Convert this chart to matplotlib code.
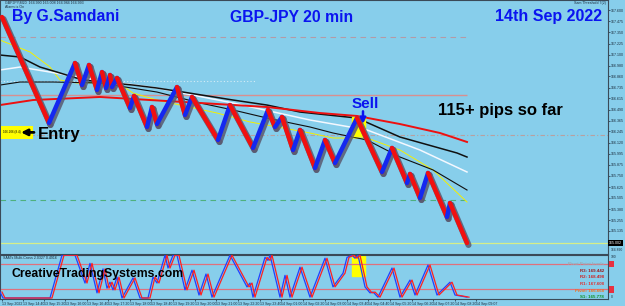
import matplotlib
matplotlib.use("Agg")
import matplotlib.pyplot as plt
from matplotlib.patches import Rectangle
from matplotlib.transforms import offset_copy

# renko swing points (bar index, price)
zz_x = [2, 49, 75, 82, 89, 97, 102, 106, 110, 112, 117, 130, 134, 147, 152, 157, 177, 185, 192, 218,
        230, 253, 268, 275, 282, 293, 300, 315, 325, 335, 357, 382, 392, 407, 410, 420, 428, 447, 450, 467]
zz_p = [167.522, 166.340, 167.009, 166.763, 166.987, 166.708, 166.908, 166.730, 166.875, 166.741,
        166.842, 166.507, 166.641, 166.295, 166.518, 166.328, 166.741, 166.429, 166.630, 166.150,
        166.540, 166.061, 166.485, 166.295, 166.407, 166.038, 166.262, 165.838, 166.150, 165.893,
        166.395, 165.793, 166.061, 165.670, 165.771, 165.503, 165.782, 165.291, 165.447, 165.001]

# moving averages
ma_red_x = [0, 33, 100, 150, 200, 267, 320, 357, 400, 440, 467]
ma_red_p = [166.540, 166.596, 166.630, 166.596, 166.563, 166.518, 166.451, 166.418, 166.328, 166.228, 166.128]
ma_blk1_x = [0, 20, 40, 57, 83, 133, 157, 183, 233, 267, 300, 357, 400, 457, 467]
ma_blk1_p = [167.098, 167.076, 166.964, 166.908, 166.819, 166.763, 166.730, 166.685, 166.596, 166.540,
             166.462, 166.395, 166.183, 166.005, 165.960]
ma_blk2_x = [0, 20, 53, 100, 157, 200, 233, 267, 310, 333, 367, 400, 433, 467]
ma_blk2_p = [166.763, 166.797, 166.797, 166.786, 166.685, 166.563, 166.485, 166.395, 166.295, 166.228,
             166.150, 165.960, 165.816, 165.592]
ma_wht_x = [0, 20, 50, 83, 157, 233, 310, 367, 420, 467]
ma_wht_p = [166.931, 166.964, 166.908, 166.842, 166.730, 166.563, 166.373, 166.262, 166.038, 165.793]
ma_yel_x = [0, 30, 50, 60, 77, 117, 133, 157, 180, 217, 250, 283, 310, 333, 367, 400, 433, 467]
ma_yel_p = [167.265, 167.132, 166.964, 166.819, 166.786, 166.797, 166.674, 166.596, 166.540, 166.451,
            166.351, 166.284, 166.228, 166.172, 166.172, 166.038, 165.816, 165.458]

# oscillator (0-100)
osc_x = [0, 3, 50, 62, 75, 85, 90, 97, 103, 107, 110, 113, 117, 122, 133, 140, 148, 153, 157, 165,
         168, 173, 177, 185, 192, 199, 206, 212, 230, 247, 250, 253, 265, 268, 270, 280, 285, 290,
         300, 310, 325, 333, 343, 347, 352, 355, 358, 365, 370, 373, 378, 392, 400, 410, 415, 428,
         437, 450, 455, 467]
osc_v = [14, 0, 0, 100, 100, 35, 81, 12, 68, 23, 37, 19, 49, 0, 47, 0, 0, 49, 35, 100,
         70, 100, 100, 19, 65, 7, 56, 2, 100, 26, 35, 2, 95, 88, 100, 2, 53, 2,
         72, 2, 93, 26, 58, 95, 100, 93, 100, 26, 12, 14, 2, 70, 2, 42, 7, 77,
         7, 37, 7, 2]

price_ticks = [167.600, 167.475, 167.350, 167.225, 167.100, 166.980, 166.860, 166.735, 166.615, 166.490,
               166.365, 166.245, 166.120, 165.995, 165.875, 165.750, 165.625, 165.505, 165.380, 165.255,
               165.135]
time_pos = [2, 23, 44, 65, 87, 108, 130, 151, 173, 195, 216, 238, 260, 281, 303, 325, 347, 368, 390,
            412, 433, 455, 476]
time_lbl = ["13 Sep 2022", "13 Sep 14:40", "13 Sep 15:20", "13 Sep 16:00", "13 Sep 16:40", "13 Sep 17:20",
            "13 Sep 18:00", "13 Sep 18:40", "13 Sep 19:20", "13 Sep 20:00", "13 Sep 21:00", "13 Sep 22:20",
            "13 Sep 23:40", "14 Sep 01:00", "14 Sep 02:20", "14 Sep 03:00", "14 Sep 03:40", "14 Sep 04:40",
            "14 Sep 05:20", "14 Sep 06:20", "14 Sep 07:20", "14 Sep 08:20", "14 Sep 09:07"]

BG = "#87ceeb"
plt.rcParams['font.family'] = ['Liberation Sans', 'DejaVu Sans']

fig = plt.figure(figsize=(6.25, 3.06), dpi=100, facecolor=BG)
ax = fig.add_axes([0.0, 52 / 306, 608 / 625, 254 / 306], facecolor=BG)
ax2 = fig.add_axes([0.0, 7 / 306, 608 / 625, 44 / 306], facecolor=BG)

for a in (ax, ax2):
    a.set_xlim(0, 608)
    for s in a.spines.values():
        s.set_color("#3a4a58")
        s.set_linewidth(0.8)
ax.set_ylim(164.878, 167.712)
ax2.set_ylim(-2.3, 100.5)

# horizontal levels
ax.hlines(167.299, 0, 467, colors="#b49aa6", lw=0.8, ls=(0, (5, 4)))
ax.hlines(166.652, 0, 467, colors="#d89090", lw=1.0)
ax.hlines(166.808, 0, 255, colors="#d6ecf6", lw=0.8, ls=(0, (1, 2)))
ax.hlines(166.206, 0, 608, colors="#b8a0a0", lw=0.8, ls=(0, (4, 2, 1, 2)))
ax.hlines(165.481, 0, 467, colors="#4eb07e", lw=0.8, ls=(0, (5, 4)))
ax.hlines(164.996, 0, 608, colors="#d6ee88", lw=0.9)

# moving averages
ax.plot(ma_yel_x, ma_yel_p, color="#f4f000", lw=0.7)
ax.plot(ma_blk2_x, ma_blk2_p, color="#101010", lw=0.8)
ax.plot(ma_wht_x, ma_wht_p, color="#f4f8ff", lw=1.1)
ax.plot(ma_blk1_x, ma_blk1_p, color="#101010", lw=1.1)
ax.plot(ma_red_x, ma_red_p, color="#ee1010", lw=1.4)

# sell highlight
ax.add_patch(Rectangle((352, 166.195), 13, 0.215, color="#ffff00", zorder=3))

# renko legs: shadow then colour
shadow = offset_copy(ax.transData, fig=fig, x=1.5, y=-2.0, units="dots")
for i in range(len(zz_x) - 1):
    xs, ps = zz_x[i:i + 2], zz_p[i:i + 2]
    ax.plot(xs, ps, color="#5a5a70", lw=4.4, transform=shadow, solid_capstyle="round", zorder=4, alpha=0.85)
for i in range(len(zz_x) - 1):
    xs, ps = zz_x[i:i + 2], zz_p[i:i + 2]
    col = "#1428f0" if ps[1] > ps[0] else "#f01010"
    ax.plot(xs, ps, color=col, lw=3.2, solid_capstyle="round", zorder=5)

# price axis
ax.yaxis.tick_right()
ax.set_yticks(price_ticks)
ax.set_yticklabels([f"{v:.3f}" for v in price_ticks])
ax.tick_params(axis="y", labelsize=2.6, colors="#1a2a3a", length=1.5, width=0.5, pad=0.5)
ax.set_xticks([])
ax.text(1.002, 165.001, "165.002", transform=ax.get_yaxis_transform(), fontsize=2.6, color="white",
        va="center", ha="left", bbox=dict(boxstyle="square,pad=0.2", fc="black", ec="none"))
fig.text(611 / 625, 1 - 252 / 306, "164.890", fontsize=2.4, color="#1a2a3a", va="bottom")
fig.text(611 / 625, 1 - 255 / 306, "100", fontsize=2.4, color="#1a2a3a", va="top")
fig.text(611 / 625, 1 - 297 / 306, "0", fontsize=2.4, color="#1a2a3a", va="center")

# oscillator
ax2.hlines([80, 20], 0, 608, colors="#e0707c", lw=0.9)
ax2.add_patch(Rectangle((352, 51), 13, 47, color="#ffff00", zorder=1))
lag = offset_copy(ax2.transData, fig=fig, x=2, y=0, units="dots")
ax2.plot(osc_x, osc_v, color="#2040ff", lw=0.9, zorder=3)
ax2.plot(osc_x, osc_v, color="#ff2020", lw=0.9, transform=lag, zorder=4)
ax2.set_yticks([])
for lv in (80, 20):
    ax2.text(1.004, lv, "  ", transform=ax2.get_yaxis_transform(), fontsize=2.6, va="center",
             bbox=dict(boxstyle="square,pad=0.3", fc="#e83040", ec="none"))
ax2.set_xticks(time_pos)
ax2.set_xticklabels(time_lbl, ha="left")
ax2.tick_params(axis="x", labelsize=2.6, colors="#1a2a3a", length=1.5, width=0.5, pad=0.5)

# pivot labels
piv = [("Pivot Point levels", "#9aa8b4", 264), ("R3: 169.442", "#a01818", 271),
       ("R2: 168.498", "#d02020", 277), ("R1: 167.608", "#e03030", 284),
       ("Pivot: 166.668", "#f07020", 291), ("S1: 165.778", "#109020", 297)]
for txt, col, py in piv:
    fig.text(604 / 625, 1 - py / 306, txt, fontsize=3.2, color=col, ha="right", va="center", fontweight="bold")

# small header texts
fig.text(5 / 625, 1 - 3 / 306, "GBPJPY,M20  164.990 165.008 164.984 164.993", fontsize=2.6, color="#1a2a3a", va="center")
fig.text(5 / 625, 1 - 7.5 / 306, "Alarm is On", fontsize=2.6, color="#1a2a3a", va="center")
fig.text(606 / 625, 1 - 3 / 306, "Sam Threshold 7(2)", fontsize=2.6, color="#1a2a3a", ha="right", va="center")
fig.text(3 / 625, 1 - 258 / 306, "SAM's Multi-Cross 2.0327 0.4916", fontsize=2.6, color="#1a2a3a", va="center")

# titles and annotations
blue = "#0a14f0"
fig.text(12 / 625, 1 - 17 / 306, "By G.Samdani", fontsize=11.3, color=blue, fontweight="bold", va="center")
fig.text(292 / 625, 1 - 17 / 306, "GBP-JPY 20 min", fontsize=11.3, color=blue, fontweight="bold", va="center", ha="center")
fig.text(602 / 625, 1 - 17 / 306, "14th Sep 2022", fontsize=11.5, color=blue, fontweight="bold", va="center", ha="right")
fig.text(365 / 625, 1 - 104 / 306, "Sell", fontsize=11, color=blue, fontweight="bold", va="center", ha="center")
fig.text(500 / 625, 1 - 110 / 306, "115+ pips so far", fontsize=12, color="black", fontweight="bold", va="center", ha="center")
fig.text(38 / 625, 1 - 134 / 306, "Entry", fontsize=12, color="black", fontweight="bold", va="center")
fig.text(12 / 625, 1 - 274 / 306, "CreativeTradingSystems.com", fontsize=8.8, color="black", fontweight="bold", va="center")

# sell arrow
ax.annotate("", xy=(363, 166.330), xytext=(363, 166.470),
            arrowprops=dict(arrowstyle="-|>", color=blue, lw=1.8, mutation_scale=8,
                            shrinkA=0, shrinkB=0), zorder=8)

# entry box
ax.add_patch(Rectangle((1, 166.161), 32, 0.145, fc="#ffff00", ec="none", zorder=5))
ax.text(3, 166.235, "166.206 (8.4)", fontsize=2.2, color="black", va="center", zorder=6)
ax.annotate("", xy=(21, 166.235), xytext=(34, 166.235),
            arrowprops=dict(arrowstyle="-|>", color="black", lw=2.0, mutation_scale=9,
                            shrinkA=0, shrinkB=0), zorder=7)

fig.savefig("out.png", dpi=100, facecolor=BG)
